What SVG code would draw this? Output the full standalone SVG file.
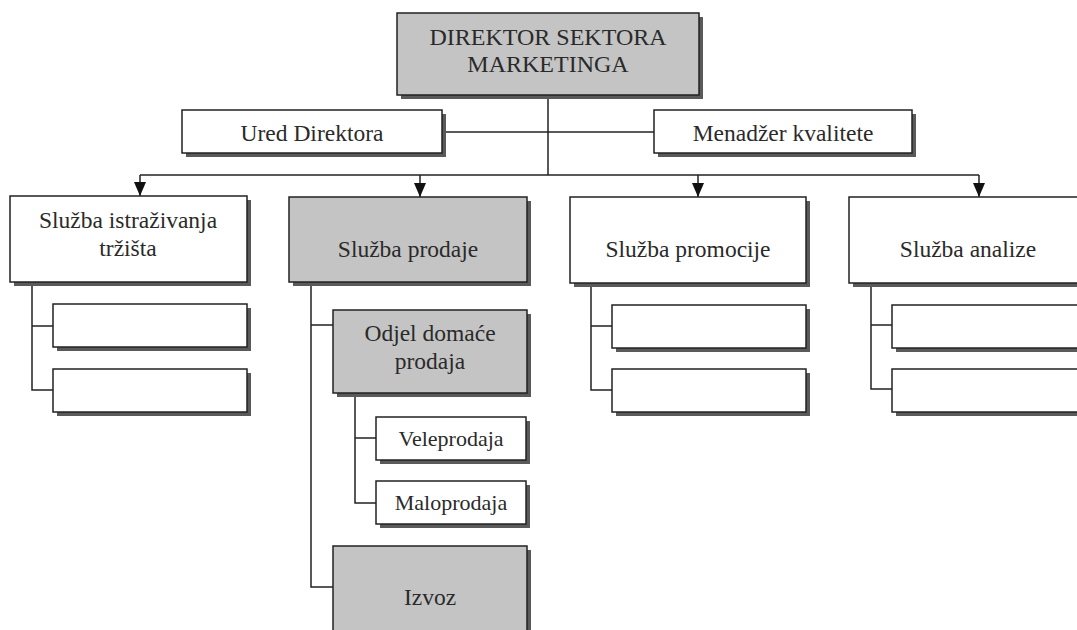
<svg xmlns="http://www.w3.org/2000/svg" width="1077" height="630" viewBox="0 0 1077 630">
<style>
.box{fill:#ffffff;stroke:#222;stroke-width:1.5}
.gbox{fill:#c4c4c4;stroke:#222;stroke-width:1.5}
.sh{fill:#5a5a5a}
.t{font-family:"Liberation Serif","Times New Roman",serif;font-size:23.5px;fill:#2a2a2a;text-anchor:middle}
.big{font-size:24px}
.sm{font-size:22px}
.ln{fill:none;stroke:#222;stroke-width:1.5}
</style>
<defs>
<marker id="ah" markerUnits="userSpaceOnUse" markerWidth="14" markerHeight="12" refX="14" refY="6" orient="auto" viewBox="0 0 14 12">
<path d="M0,0 L14,6 L0,12 Z" fill="#111"/>
</marker>
</defs>
<rect width="1077" height="630" fill="#ffffff"/>
<g id="connectors">
<path class="ln" d="M548,95 V175"/>
<path class="ln" d="M442,132 H654"/>
<path class="ln" d="M140,175 H979"/>
<path class="ln" d="M140,175 V196" marker-end="url(#ah)"/>
<path class="ln" d="M420,175 V197" marker-end="url(#ah)"/>
<path class="ln" d="M698,175 V197" marker-end="url(#ah)"/>
<path class="ln" d="M979,175 V197" marker-end="url(#ah)"/>
<path class="ln" d="M32,282 V390 H53 M32,326 H53"/>
<path class="ln" d="M311,282 V587 H333 M311,325 H333"/>
<path class="ln" d="M355,393 V503 H376 M355,438 H376"/>
<path class="ln" d="M591,283 V390 H612 M591,326 H612"/>
<path class="ln" d="M871,283 V389 H892 M871,325 H892"/>
</g>
<g id="direktor">
<rect class="sh" x="401" y="17" width="302" height="82"/>
<rect class="gbox" x="397" y="13" width="302" height="82"/>
<text class="t big" x="548" y="45">DIREKTOR SEKTORA</text>
<text class="t big" x="548" y="72">MARKETINGA</text>
</g>
<g id="ured">
<rect class="sh" x="186" y="114" width="260" height="43"/>
<rect class="box" x="182" y="110" width="260" height="43"/>
<text class="t" x="312" y="141">Ured Direktora</text>
</g>
<g id="menadzer">
<rect class="sh" x="658" y="114" width="258" height="43"/>
<rect class="box" x="654" y="110" width="258" height="43"/>
<text class="t" x="783" y="141">Menadžer kvalitete</text>
</g>
<g id="istrazivanje">
<rect class="sh" x="14" y="200" width="237" height="86"/>
<rect class="box" x="10" y="196" width="237" height="86"/>
<text class="t" x="128" y="228">Služba istraživanja</text>
<text class="t" x="128" y="256">tržišta</text>
</g>
<g id="istrazivanje-1">
<rect class="sh" x="57" y="308" width="194" height="43"/>
<rect class="box" x="53" y="304" width="194" height="43"/>
</g>
<g id="istrazivanje-2">
<rect class="sh" x="57" y="373" width="194" height="43"/>
<rect class="box" x="53" y="369" width="194" height="43"/>
</g>
<g id="prodaja">
<rect class="sh" x="293" y="201" width="238" height="85"/>
<rect class="gbox" x="289" y="197" width="238" height="85"/>
<text class="t" x="408" y="257">Služba prodaje</text>
</g>
<g id="domaca">
<rect class="sh" x="337" y="314" width="194" height="83"/>
<rect class="gbox" x="333" y="310" width="194" height="83"/>
<text class="t" x="430" y="341">Odjel domaće</text>
<text class="t" x="430" y="369">prodaja</text>
</g>
<g id="veleprodaja">
<rect class="sh" x="380" y="421" width="150" height="43"/>
<rect class="box" x="376" y="417" width="150" height="43"/>
<text class="t sm" x="451" y="446">Veleprodaja</text>
</g>
<g id="maloprodaja">
<rect class="sh" x="380" y="485" width="150" height="43"/>
<rect class="box" x="376" y="481" width="150" height="43"/>
<text class="t sm" x="451" y="510">Maloprodaja</text>
</g>
<g id="izvoz">
<rect class="sh" x="337" y="550" width="194" height="100"/>
<rect class="gbox" x="333" y="546" width="194" height="100"/>
<text class="t" x="430" y="605">Izvoz</text>
</g>
<g id="promocija">
<rect class="sh" x="574" y="201" width="236" height="86"/>
<rect class="box" x="570" y="197" width="236" height="86"/>
<text class="t" x="688" y="257">Služba promocije</text>
</g>
<g id="promocija-1">
<rect class="sh" x="616" y="309" width="194" height="43"/>
<rect class="box" x="612" y="305" width="194" height="43"/>
</g>
<g id="promocija-2">
<rect class="sh" x="616" y="373" width="194" height="43"/>
<rect class="box" x="612" y="369" width="194" height="43"/>
</g>
<g id="analiza">
<rect class="sh" x="853" y="201" width="238" height="86"/>
<rect class="box" x="849" y="197" width="238" height="86"/>
<text class="t" x="968" y="257">Služba analize</text>
</g>
<g id="analiza-1">
<rect class="sh" x="896" y="309" width="195" height="43"/>
<rect class="box" x="892" y="305" width="195" height="43"/>
</g>
<g id="analiza-2">
<rect class="sh" x="896" y="373" width="195" height="43"/>
<rect class="box" x="892" y="369" width="195" height="43"/>
</g>
</svg>
